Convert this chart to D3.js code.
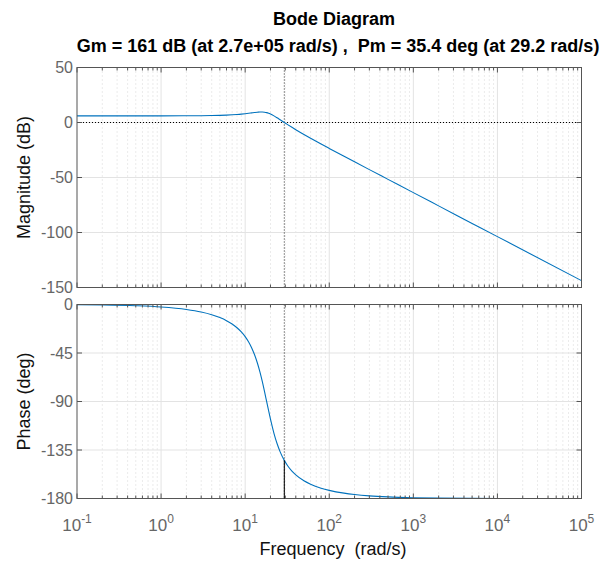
<!DOCTYPE html>
<html>
<head>
<meta charset="utf-8">
<script src="https://cdn.jsdelivr.net/npm/d3@7"></script>
<style>
  body { margin: 0; background: #fff; }
  svg { font-family: "Liberation Sans", Arial, sans-serif; }
  text { white-space: pre; }
</style>
</head>
<body>
<div id="chart"></div>
<script>
// frequency samples (rad/s) and the values
const freq = [0.1, 0.2, 0.5, 1, 2, 3, 4, 5, 6, 7, 8, 9, 10, 11, 12, 13, 14, 15, 16, 17, 18, 19, 20,
  22, 24, 26, 29.2, 32, 36, 40, 50, 60, 80, 100, 150, 200, 300, 500, 1000, 2000, 5000, 1e4, 1e5];
const magDb = [6.02, 6.02, 6.03, 6.04, 6.10, 6.20, 6.34, 6.52, 6.74, 7.00, 7.30, 7.63, 7.99, 8.36,
  8.74, 9.08, 9.35, 9.52, 9.52, 9.34, 8.95, 8.39, 7.68, 6.01, 4.24, 2.52, 0.00, -1.95, -4.40,
  -6.53, -10.88, -14.30, -19.56, -23.55, -30.71, -35.75, -42.83, -51.71, -63.76, -75.80,
  -91.72, -103.76, -143.76];
const phaseDeg = [-0.23, -0.45, -1.14, -2.28, -4.59, -6.97, -9.47, -12.12, -14.98, -18.10, -21.56,
  -25.43, -29.82, -34.82, -40.55, -47.11, -54.53, -62.76, -71.65, -80.85, -89.95, -98.57,
  -106.43, -119.48, -129.23, -136.48, -144.62, -149.56, -154.54, -158.06, -163.55, -166.76,
  -170.40, -172.44, -175.03, -176.29, -177.54, -178.53, -179.26, -179.63, -179.85, -179.93, -179.99];

const magTicks = [50, 0, -50, -100, -150];
const phaseTicks = [0, -45, -90, -135, -180];
const decades = [-1, 0, 1, 2, 3, 4, 5];

const title1 = "Bode Diagram";
const title2 = "Gm = 161 dB (at 2.7e+05 rad/s) ,  Pm = 35.4 deg (at 29.2 rad/s)";
const wc = 29.2, pmPhase = -144.62;

const width = 616, height = 561;
const left = 77, right = 581.5;

const svg = d3.select("#chart").append("svg")
  .attr("width", width).attr("height", height);

const x = d3.scaleLog().domain([0.1, 1e5]).range([left, right]);
const yMag = d3.scaleLinear().domain([-150, 50]).range([287.5, 67.5]);
const yPh = d3.scaleLinear().domain([-180, 0]).range([498.5, 304.5]);

const minorF = [];
decades.slice(0, -1).forEach(e => {
  for (let k = 2; k <= 9; k++) minorF.push(k * Math.pow(10, e));
});
const majorF = decades.map(e => Math.pow(10, e));

function panel(y, ticks, vals, refLine) {
  const [yb, yt] = y.range();
  const g = svg.append("g");

  // minor grid (dotted)
  g.selectAll("line.minor").data(minorF).join("line")
    .attr("x1", d => x(d)).attr("x2", d => x(d))
    .attr("y1", yt).attr("y2", yb)
    .attr("stroke", "#d6d6d6").attr("stroke-width", 1)
    .attr("stroke-dasharray", "1,3");

  // major grid
  g.selectAll("line.vmaj").data(majorF.slice(1, -1)).join("line")
    .attr("x1", d => x(d)).attr("x2", d => x(d))
    .attr("y1", yt).attr("y2", yb)
    .attr("stroke", "#e3e3e3");
  g.selectAll("line.hmaj").data(ticks.slice(1, -1)).join("line")
    .attr("x1", left).attr("x2", right)
    .attr("y1", d => y(d)).attr("y2", d => y(d))
    .attr("stroke", "#e3e3e3");

  // reference line (0 dB / -180 deg)
  g.append("line")
    .attr("x1", left).attr("x2", right)
    .attr("y1", y(refLine)).attr("y2", y(refLine))
    .attr("stroke", "#000").attr("stroke-width", 1)
    .attr("stroke-dasharray", "1,2");

  // vertical margin marker
  g.append("line")
    .attr("x1", x(wc)).attr("x2", x(wc))
    .attr("y1", yt).attr("y2", yb)
    .attr("stroke", "#222").attr("stroke-width", 1)
    .attr("stroke-dasharray", "1,2");

  // curve
  const line = d3.line().x((d, i) => x(freq[i])).y(d => y(d)).curve(d3.curveMonotoneX);
  g.append("path").datum(vals)
    .attr("d", line)
    .attr("fill", "none")
    .attr("stroke", "#0072BD").attr("stroke-width", 1.1);

  // ticks inside, all four sides
  const tk = g.append("g").attr("stroke", "#555").attr("stroke-width", 1);
  majorF.forEach(f => {
    tk.append("line").attr("x1", x(f)).attr("x2", x(f)).attr("y1", yt).attr("y2", yt + 5);
    tk.append("line").attr("x1", x(f)).attr("x2", x(f)).attr("y1", yb).attr("y2", yb - 5);
  });
  minorF.forEach(f => {
    tk.append("line").attr("x1", x(f)).attr("x2", x(f)).attr("y1", yt).attr("y2", yt + 3);
    tk.append("line").attr("x1", x(f)).attr("x2", x(f)).attr("y1", yb).attr("y2", yb - 3);
  });
  ticks.forEach(t => {
    tk.append("line").attr("x1", left).attr("x2", left + 5).attr("y1", y(t)).attr("y2", y(t));
    tk.append("line").attr("x1", right).attr("x2", right - 5).attr("y1", y(t)).attr("y2", y(t));
  });

  // box
  g.append("rect")
    .attr("x", left).attr("y", yt)
    .attr("width", right - left).attr("height", yb - yt)
    .attr("fill", "none").attr("stroke", "#555").attr("stroke-width", 1);

  // y tick labels
  g.selectAll("text.yt").data(ticks).join("text")
    .attr("x", left - 4).attr("y", d => y(d))
    .attr("dy", "0.35em")
    .attr("text-anchor", "end")
    .attr("fill", "#666").attr("font-size", 16)
    .text(d => d);

  return g;
}

const gMag = panel(yMag, magTicks, magDb, 0);
const gPh = panel(yPh, phaseTicks, phaseDeg, -180);

// phase margin solid segment
gPh.append("line")
  .attr("x1", x(wc)).attr("x2", x(wc))
  .attr("y1", yPh(pmPhase)).attr("y2", yPh(-180))
  .attr("stroke", "#000").attr("stroke-width", 1);

// x tick labels (bottom panel only)
const xl = svg.append("g").attr("fill", "#666").attr("font-size", 17);
decades.forEach(e => {
  const t = xl.append("text")
    .attr("x", x(Math.pow(10, e))).attr("y", 531)
    .attr("text-anchor", "middle");
  t.append("tspan").text("10");
  t.append("tspan").attr("font-size", 12).attr("dy", -8).text(e);
});

// axis labels
svg.append("text")
  .attr("transform", `translate(30, ${(yMag.range()[0] + yMag.range()[1]) / 2}) rotate(-90)`)
  .attr("text-anchor", "middle").attr("font-size", 18).attr("fill", "#111")
  .text("Magnitude (dB)");
svg.append("text")
  .attr("transform", `translate(30, ${(yPh.range()[0] + yPh.range()[1]) / 2}) rotate(-90)`)
  .attr("text-anchor", "middle").attr("font-size", 18).attr("fill", "#111")
  .text("Phase (deg)");
svg.append("text")
  .attr("x", 333).attr("y", 555)
  .attr("text-anchor", "middle").attr("font-size", 18).attr("fill", "#111")
  .text("Frequency  (rad/s)");

// title
svg.append("text")
  .attr("x", 334).attr("y", 25)
  .attr("text-anchor", "middle").attr("font-size", 18).attr("font-weight", "bold")
  .text(title1);
svg.append("text")
  .attr("x", 338).attr("y", 52)
  .attr("text-anchor", "middle").attr("font-size", 18).attr("font-weight", "bold")
  .text(title2);
</script>
</body>
</html>
